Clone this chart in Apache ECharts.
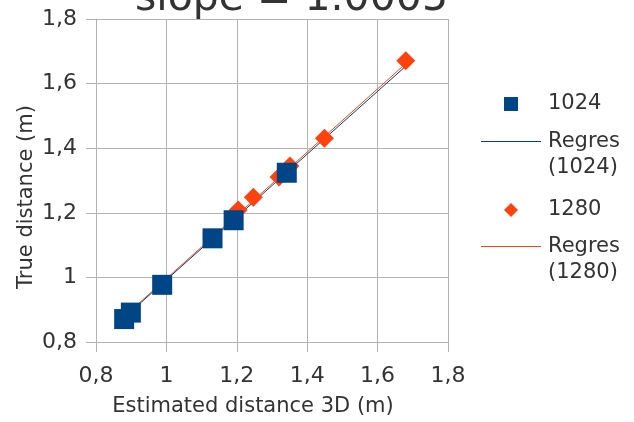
<!DOCTYPE html>
<html>
<head>
<meta charset="utf-8">
<script src="https://cdn.jsdelivr.net/npm/echarts@6/dist/echarts.min.js"></script>
<style>
  html, body { margin: 0; padding: 0; background: #ffffff; }
  #chart { width: 634px; height: 422px; }
</style>
</head>
<body>
<div id="chart"></div>
<script>
// ---- data ----
const titleText = 'slope = 1.0005';
const xAxisName = 'Estimated distance 3D (m)';
const yAxisName = 'True distance (m)';
const xTickLabels = ['0,8', '1', '1,2', '1,4', '1,6', '1,8'];
const yTickLabels = ['0,8', '1', '1,2', '1,4', '1,6', '1,8'];

const seriesNames = ['1024', 'Regres\n(1024)', '1280', 'Regres\n(1280)'];

// 1024 resolution measurements [estimated, true]
const x1024 = [0.880, 0.899, 0.988, 1.131, 1.191, 1.342];
const y1024 = [0.871, 0.891, 0.977, 1.121, 1.177, 1.324];

// 1280 resolution measurements (visible ones)
const x1280 = [1.204, 1.247, 1.320, 1.351, 1.449, 1.680];
const y1280 = [1.209, 1.248, 1.311, 1.345, 1.431, 1.671];

// regression lines (end points)
const regX1024 = [0.870, 1.680];
const regY1024 = [0.866, 1.654];
const regX1280 = [0.870, 1.680];
const regY1280 = [0.869, 1.662];

const zip = (xs, ys) => xs.map((x, i) => [x, ys[i]]);

const FONT = 'DejaVu Sans';
const TXT = '#333333';
const GRID = '#b3b3b3';
const BLUE = '#004586';
const ORANGE = '#ff420e';

const ICON_SQUARE = 'path://M0,0L10,0L10,10L0,10Z';
const ICON_DIAMOND = 'path://M5,0L10,5L5,10L0,5Z';
const ICON_LINE = 'path://M0,0L60,0L60,1L0,1Z';

const legendBase = (left, top, name, icon) => ({
  orient: 'vertical',
  left: left,
  top: top,
  padding: 0,
  itemWidth: 60,
  itemHeight: 14,
  symbolKeepAspect: true,
  formatter: (n) => n.indexOf('\n') >= 0 ? '\n' + n : n,
  textStyle: { fontFamily: FONT, fontSize: 21, lineHeight: 26, color: TXT, padding: [0, 0, 0, 2] },
  data: [{ name: name, icon: icon }]
});

const chart = echarts.init(document.getElementById('chart'), null, { renderer: 'canvas' });

chart.setOption({
  animation: false,
  backgroundColor: '#ffffff',
  title: {
    text: titleText,
    left: 135,
    top: -21,
    padding: 0,
    textStyle: { fontFamily: FONT, fontSize: 41, fontWeight: 'normal', color: TXT }
  },
  grid: { left: 96, right: 186, top: 19, bottom: 80, containLabel: false },
  legend: [
    legendBase(504, 91, seriesNames[0], ICON_SQUARE),
    legendBase(481, 102.5, seriesNames[1], ICON_LINE),
    legendBase(504, 197, seriesNames[2], ICON_DIAMOND),
    legendBase(481, 207.5, seriesNames[3], ICON_LINE)
  ],
  xAxis: {
    type: 'value',
    min: 0.8,
    max: 1.8,
    interval: 0.2,
    name: xAxisName,
    nameLocation: 'middle',
    nameGap: 54,
    nameMoveOverlap: false,
    nameTextStyle: { fontFamily: FONT, fontSize: 21, color: TXT, padding: [0, 38, 0, 0] },
    axisLine: { show: true, onZero: false, lineStyle: { color: GRID, width: 1 } },
    axisTick: { show: true, inside: false, length: 10, lineStyle: { color: GRID } },
    axisLabel: {
      margin: 23,
      fontFamily: FONT, fontSize: 22, color: TXT,
      formatter: (v, i) => xTickLabels[i]
    },
    splitLine: { show: true, lineStyle: { color: GRID, width: 1 } }
  },
  yAxis: {
    type: 'value',
    min: 0.8,
    max: 1.8,
    interval: 0.2,
    name: yAxisName,
    nameLocation: 'middle',
    nameGap: 59,
    nameMoveOverlap: false,
    nameTextStyle: { fontFamily: FONT, fontSize: 21, color: TXT, padding: [0, 33, 0, 0] },
    axisLine: { show: true, onZero: false, lineStyle: { color: GRID, width: 1 } },
    axisTick: { show: true, inside: false, length: 10, lineStyle: { color: GRID } },
    axisLabel: {
      margin: 19,
      fontFamily: FONT, fontSize: 22, color: TXT,
      formatter: (v, i) => yTickLabels[i]
    },
    splitLine: { show: true, lineStyle: { color: GRID, width: 1 } }
  },
  series: [
    {
      name: seriesNames[0],
      type: 'scatter',
      symbol: 'rect',
      symbolSize: 20,
      z: 5,
      itemStyle: { color: BLUE, opacity: 1 },
      data: zip(x1024, y1024)
    },
    {
      name: seriesNames[1],
      type: 'line',
      symbol: 'none',
      z: 3,
      lineStyle: { color: BLUE, width: 1 },
      itemStyle: { color: BLUE },
      data: zip(regX1024, regY1024)
    },
    {
      name: seriesNames[2],
      type: 'scatter',
      symbol: 'diamond',
      symbolSize: 19,
      z: 4,
      itemStyle: { color: ORANGE, opacity: 1 },
      data: zip(x1280, y1280)
    },
    {
      name: seriesNames[3],
      type: 'line',
      symbol: 'none',
      z: 2,
      lineStyle: { color: ORANGE, width: 1 },
      itemStyle: { color: ORANGE },
      data: zip(regX1280, regY1280)
    }
  ]
});
</script>
</body>
</html>
